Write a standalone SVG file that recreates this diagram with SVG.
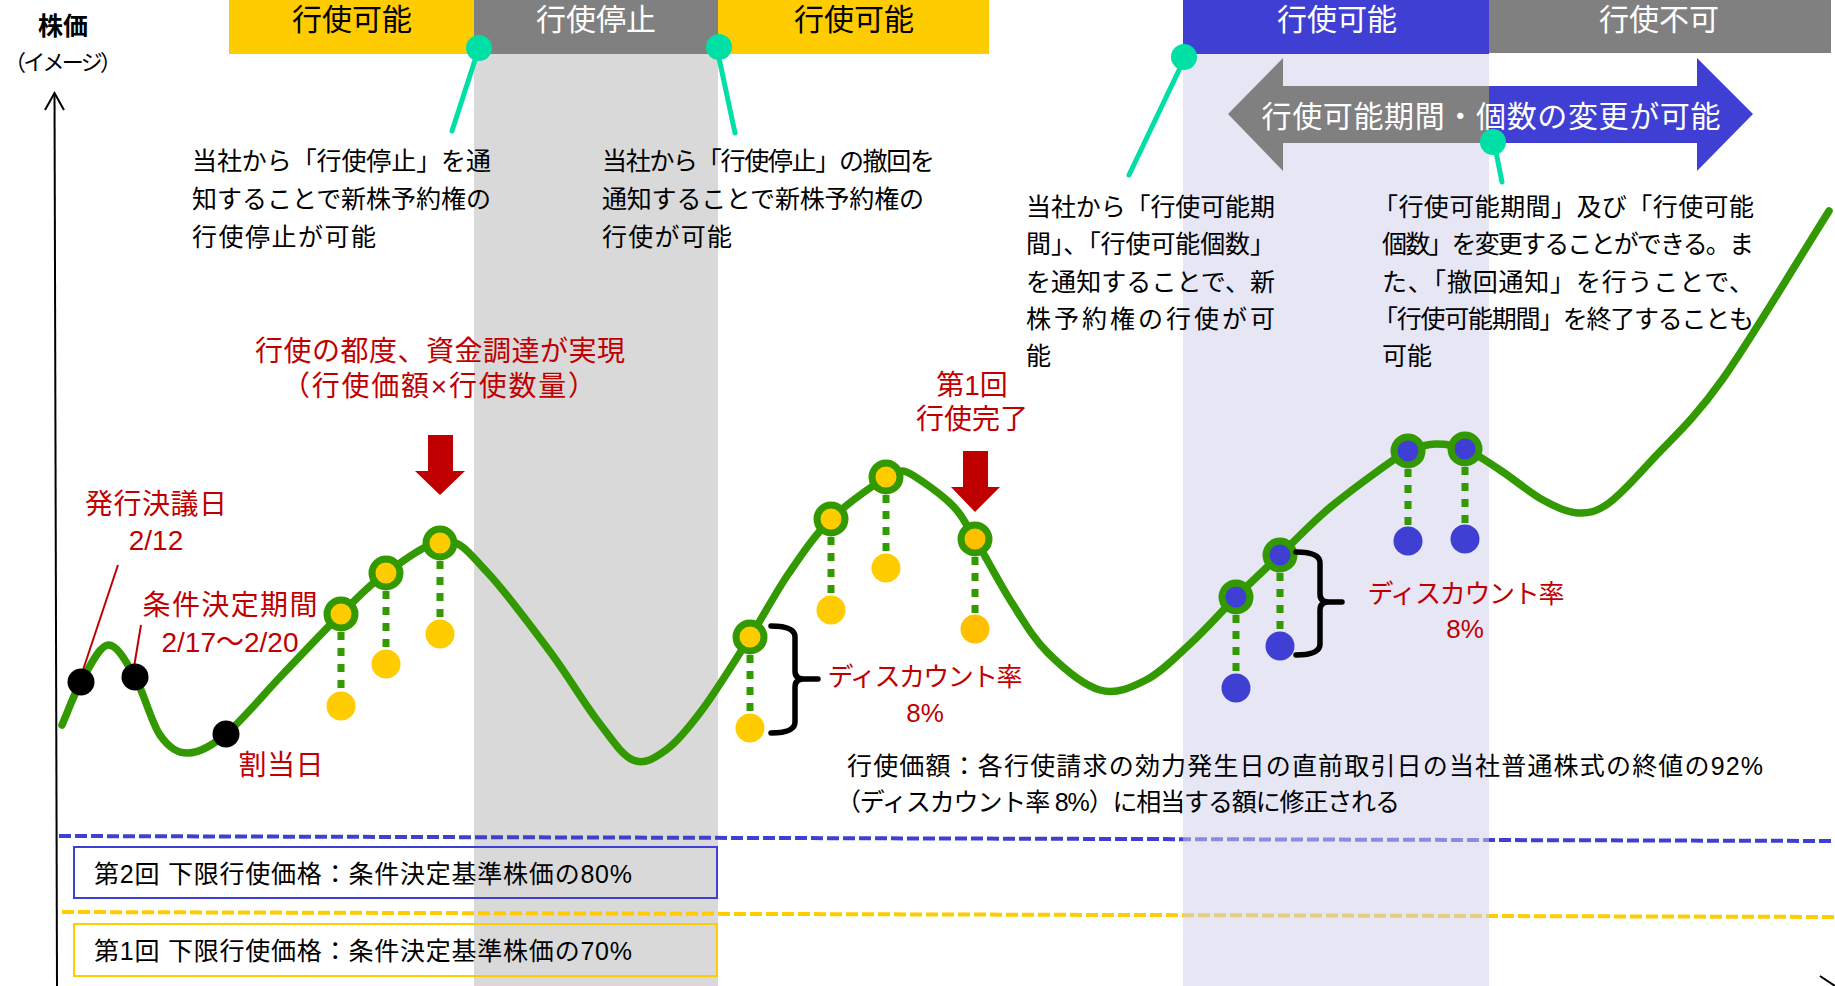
<svg xmlns="http://www.w3.org/2000/svg" width="1835" height="986" viewBox="0 0 1835 986">
<defs>
<style>
text{font-family:'Liberation Sans','Noto Sans CJK JP',sans-serif;}
.blk{font-size:25px;fill:#000}
.red{font-size:28px;fill:#C00000}
.red26{font-size:26px;fill:#C00000}
.bar{font-size:30px}
.wt{fill:#fff}
.c{text-anchor:middle}
.curve{fill:none;stroke:#339900;stroke-width:7.5;stroke-linecap:round;stroke-linejoin:round}
.dash{stroke:#339900;stroke-width:7;stroke-dasharray:8 8}
.ring{stroke:#339900;stroke-width:7}
.y{fill:#FFCC00}.o{fill:#FFC000}.b{fill:#3F3FD4}.k{fill:#000}
.pin{fill:#00DFA5}
.pinl{stroke:#00DFA5;stroke-width:5;stroke-linecap:round}
.brace{fill:none;stroke:#000;stroke-width:5.5;stroke-linecap:round;stroke-linejoin:round}
.rl{stroke:#C00000;stroke-width:2}
.arr{fill:#C00000}
.floor{fill:none;stroke-width:4;stroke-dasharray:12 4}
</style>
</defs>
<rect width="1835" height="986" fill="#fff"/>
<g id="period-stop-shade"><rect x="474" y="54" width="244" height="932" fill="#D9D9D9"/></g>
<g id="floor-box-2"><rect x="74" y="847" width="643" height="51" fill="none" stroke="#3F3FD4" stroke-width="2"/>
<text class="blk" x="94" y="883" textLength="538">第2回 下限行使価格：条件決定基準株価の80%</text></g>
<g id="floor-box-1"><rect x="74" y="924" width="643" height="52" fill="none" stroke="#FFCC00" stroke-width="2"/>
<text class="blk" x="94" y="960" textLength="538">第1回 下限行使価格：条件決定基準株価の70%</text></g>
<g id="floor-lines">
<line class="floor" x1="59" y1="836" x2="1835" y2="841" stroke="#3F3FD4"/>
<line class="floor" x1="62" y1="912" x2="1835" y2="917" stroke="#FFCC00"/>
</g>
<g id="period-2-shade"><rect x="1183" y="54" width="306" height="932" fill="rgb(208,208,236)" opacity="0.53"/></g>
<g id="bars">
<g id="bar-1"><rect x="229" y="0" width="245" height="54" fill="#FFCC00"/><text class="bar c" x="352" y="30" fill="#000">行使可能</text></g>
<g id="bar-2"><rect x="474" y="0" width="244" height="54" fill="#808080"/><text class="bar c wt" x="596" y="30">行使停止</text></g>
<g id="bar-3"><rect x="718" y="0" width="271" height="54" fill="#FFCC00"/><text class="bar c" x="854" y="30" fill="#000">行使可能</text></g>
<g id="bar-4"><rect x="1183" y="0" width="306" height="54" fill="#3F3FD4"/><text class="bar c wt" x="1337" y="30">行使可能</text></g>
<g id="bar-5"><rect x="1489" y="0" width="342" height="53" fill="#808080"/><text class="bar c wt" x="1659" y="30">行使不可</text></g>
</g>
<g id="period-arrow">
<polygon points="1228,114 1283,58 1283,86 1490,86 1490,143 1283,143 1283,171" fill="#808080"/>
<polygon points="1489,86 1697,86 1697,58 1753,114 1697,171 1697,143 1489,143" fill="#3F3FD4"/>
<text class="bar c wt" x="1491" y="127" textLength="459">行使可能期間・個数の変更が可能</text>
</g>
<g id="axis">
<line x1="54.5" y1="93" x2="57" y2="986" stroke="#000" stroke-width="2"/>
<polyline points="45,110 54.5,93 64,110" fill="none" stroke="#000" stroke-width="2"/>
<line x1="1820" y1="976" x2="1835" y2="986" stroke="#000" stroke-width="2"/>
<text class="c" x="63" y="35" font-size="25" font-weight="bold">株価</text>
<text class="c" x="63" y="70" font-size="22" textLength="118">（イメージ）</text>
</g>
<g id="connectors">
<path class="curve" d="M62,725 C68.3,710.7 73.3,695.3 81,682 C88.7,668.7 99,645.8 108,645 C117,644.2 126.3,662 135,677 C143.7,692 151.2,722.3 160,735 C168.8,747.7 177,753.2 188,753 C199,752.8 210.2,747.2 226,734 C241.8,720.8 263.8,694 283,674 C302.2,654 323.8,630.8 341,614 C358.2,597.2 368.7,585.2 386,573 C403.3,560.8 428.2,541.2 445,541 C461.8,540.8 469.3,553.3 487,572 C504.7,590.7 532.7,628.3 551,653 C569.3,677.7 583.3,702.2 597,720 C610.7,737.8 621.5,755 633,760 C644.5,765 654.5,758.3 666,750 C677.5,741.7 688,728.8 702,710 C716,691.2 735.5,659.8 750,637 C764.5,614.2 775.5,592.7 789,573 C802.5,553.3 814.8,535 831,519 C847.2,503 877,483 886,477 C895,471 897,471 903,471 C909,471 938,491.7 950,503 C962,514.3 964.7,522.3 975,539 C985.3,555.7 999.8,584 1012,603 C1024.2,622 1033.3,638.5 1048,653 C1062.7,667.5 1083.7,685.5 1100,690 C1116.3,694.5 1130.8,687.8 1146,680 C1161.2,672.2 1176,656.8 1191,643 C1206,629.2 1221.2,611.7 1236,597 C1250.8,582.3 1263.8,570.3 1280,555 C1296.2,539.7 1311.7,522.3 1333,505 C1354.3,487.7 1399,454.8 1408,451 C1417,447.2 1426.5,444 1436,444 C1445.5,444 1454.3,444.7 1465,449 C1475.7,453.3 1487,461.5 1500,470 C1513,478.5 1530,492.8 1543,500 C1556,507.2 1567,512.5 1578,513 C1589,513.5 1596.7,511.8 1609,503 C1621.3,494.2 1633.2,480.5 1652,460 C1670.8,439.5 1692.5,421.5 1722,380 C1751.5,338.5 1793.3,267.7 1829,211"/>
<line class="dash" x1="341" y1="632" x2="341" y2="692"/>
<line class="dash" x1="386" y1="591" x2="386" y2="650"/>
<line class="dash" x1="440" y1="561" x2="440" y2="620"/>
<line class="dash" x1="750" y1="655" x2="750" y2="714"/>
<line class="dash" x1="831" y1="537" x2="831" y2="596"/>
<line class="dash" x1="886" y1="495" x2="886" y2="554"/>
<line class="dash" x1="975" y1="557" x2="975" y2="615"/>
<line class="dash" x1="1236" y1="615" x2="1236" y2="674"/>
<line class="dash" x1="1280" y1="573" x2="1280" y2="632"/>
<line class="dash" x1="1408" y1="469" x2="1408" y2="527"/>
<line class="dash" x1="1465" y1="467" x2="1465" y2="525"/>
<line class="rl" x1="118" y1="565" x2="83" y2="670"/>
<line class="rl" x1="141" y1="625" x2="134" y2="667"/>
<line class="pinl" x1="475" y1="60" x2="452" y2="131"/>
<line class="pinl" x1="719" y1="58" x2="735" y2="133"/>
<line class="pinl" x1="1180" y1="68" x2="1129" y2="175"/>
<line class="pinl" x1="1496" y1="152" x2="1502" y2="182"/>
</g>
<g id="milestones">
<g id="dot-issue"><circle class="k" cx="81" cy="682" r="13.5"/></g>
<g id="dot-terms"><circle class="k" cx="135" cy="677" r="13.5"/></g>
<g id="dot-allot"><circle class="k" cx="226" cy="734" r="13.5"/></g>
</g>
<g id="exercise-1">
<g id="ex1-a"><circle class="ring y" cx="341" cy="614" r="14"/><circle class="y" cx="341" cy="706" r="14.5"/></g>
<g id="ex1-b"><circle class="ring y" cx="386" cy="573" r="14"/><circle class="y" cx="386" cy="664" r="14.5"/></g>
<g id="ex1-c"><circle class="ring y" cx="440" cy="543" r="14"/><circle class="y" cx="440" cy="634" r="14.5"/></g>
<g id="ex1-d"><circle class="ring y" cx="750" cy="637" r="14"/><circle class="y" cx="750" cy="728" r="14.5"/></g>
<g id="ex1-e"><circle class="ring y" cx="831" cy="519" r="14"/><circle class="y" cx="831" cy="610" r="14.5"/></g>
<g id="ex1-f"><circle class="ring y" cx="886" cy="477" r="14"/><circle class="y" cx="886" cy="568" r="14.5"/></g>
<g id="ex1-g"><circle class="ring o" cx="975" cy="539" r="14"/><circle class="o" cx="975" cy="629" r="14.5"/></g>
</g>
<g id="exercise-2">
<g id="ex2-a"><circle class="ring b" cx="1236" cy="597" r="14"/><circle class="b" cx="1236" cy="688" r="14.5"/></g>
<g id="ex2-b"><circle class="ring b" cx="1280" cy="555" r="14"/><circle class="b" cx="1280" cy="646" r="14.5"/></g>
<g id="ex2-c"><circle class="ring b" cx="1408" cy="451" r="14"/><circle class="b" cx="1408" cy="541" r="14.5"/></g>
<g id="ex2-d"><circle class="ring b" cx="1465" cy="449" r="14"/><circle class="b" cx="1465" cy="539" r="14.5"/></g>
</g>
<g id="brace-1"><path class="brace" d="M771,626 Q795,626 795,637 L795,671 Q795,679 804,679 L818,679 M804,679 Q795,679 795,687 L795,722 Q795,733 771,733"/></g>
<g id="brace-2"><path class="brace" d="M1296,552 Q1320,552 1320,563 L1320,594 Q1320,602 1329,602 L1342,602 M1329,602 Q1320,602 1320,610 L1320,644 Q1320,655 1296,655"/></g>
<g id="arrow-1"><polygon class="arr" points="428,435 453,435 453,471 465,471 440,495 415,471 428,471"/></g>
<g id="arrow-2"><polygon class="arr" points="963,451 988,451 988,487 1000,487 975,512 951,487 963,487"/></g>
<g id="red-labels">
<text class="red c" x="440" y="361" textLength="370">行使の都度、資金調達が実現</text>
<text class="red c" x="439" y="396" textLength="314">（行使価額×行使数量）</text>
<text class="red c" x="156" y="514" textLength="142">発行決議日</text>
<text class="red c" x="156" y="550">2/12</text>
<text class="red c" x="230" y="615" textLength="175">条件決定期間</text>
<text class="red c" x="230" y="652">2/17～2/20</text>
<text class="red c" x="281" y="775" textLength="85">割当日</text>
<text class="red c" x="972" y="395">第1回</text>
<text class="red c" x="972" y="429" textLength="112">行使完了</text>
<text class="red26 c" x="925" y="686" textLength="195">ディスカウント率</text>
<text class="red26 c" x="925" y="722">8%</text>
<text class="red26 c" x="1466" y="603" textLength="197">ディスカウント率</text>
<text class="red26 c" x="1465" y="638">8%</text>
</g>
<g id="note-stop">
<text class="blk" x="192" y="170" textLength="299">当社から「行使停止」を通</text>
<text class="blk" x="192" y="208" textLength="299">知することで新株予約権の</text>
<text class="blk" x="192" y="246" textLength="184">行使停止が可能</text>
</g>
<g id="note-resume">
<text class="blk" x="602" y="170" textLength="333">当社から「行使停止」の撤回を</text>
<text class="blk" x="602" y="208" textLength="322">通知することで新株予約権の</text>
<text class="blk" x="602" y="246" textLength="130">行使が可能</text>
</g>
<g id="note-period">
<text class="blk" x="1026" y="216" textLength="249">当社から「行使可能期</text>
<text class="blk" x="1026" y="253" textLength="249">間」、「行使可能個数」</text>
<text class="blk" x="1026" y="291" textLength="249">を通知することで、新</text>
<text class="blk" x="1026" y="328" textLength="249">株予約権の行使が可</text>
<text class="blk" x="1026" y="365">能</text>
</g>
<g id="note-change">
<text class="blk" x="1373" y="216" textLength="381">「行使可能期間」及び「行使可能</text>
<text class="blk" x="1382" y="253" textLength="372">個数」を変更することができる。ま</text>
<text class="blk" x="1382" y="291" textLength="372">た、「撤回通知」を行うことで、</text>
<text class="blk" x="1373" y="328" textLength="381">「行使可能期間」を終了することも</text>
<text class="blk" x="1382" y="365">可能</text>
</g>
<g id="note-price">
<text class="blk" x="847" y="775" textLength="916">行使価額：各行使請求の効力発生日の直前取引日の当社普通株式の終値の92%</text>
<text class="blk" x="836" y="811" textLength="564">（ディスカウント率 8%）に相当する額に修正される</text>
</g>
<g id="pins">
<circle class="pin" cx="479" cy="48" r="13"/>
<circle class="pin" cx="719" cy="47" r="13"/>
<circle class="pin" cx="1184" cy="57" r="13"/>
<circle class="pin" cx="1493" cy="142" r="13"/>
</g>
</svg>
